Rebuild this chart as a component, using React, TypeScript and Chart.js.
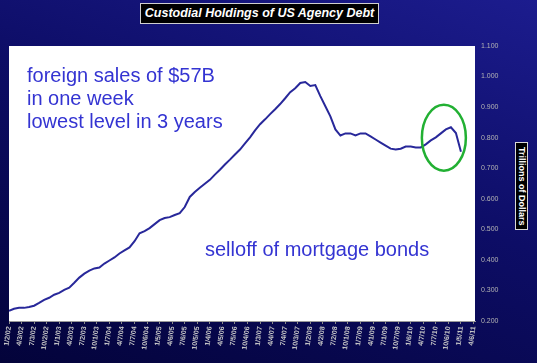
import { useEffect, useRef } from "react";
import { Chart, registerables } from "chart.js";

Chart.register(...registerables);

// Custodial holdings of US agency debt, trillions of dollars
const holdings = [
  0.233, 0.24, 0.243, 0.243, 0.246, 0.25, 0.259, 0.269, 0.276, 0.286,
  0.292, 0.302, 0.309, 0.325, 0.342, 0.355, 0.365, 0.372, 0.375, 0.388,
  0.398, 0.408, 0.421, 0.431, 0.441, 0.461, 0.487, 0.494, 0.504, 0.517,
  0.53, 0.537, 0.54, 0.547, 0.553, 0.573, 0.606, 0.622, 0.636, 0.649,
  0.662, 0.679, 0.695, 0.712, 0.728, 0.745, 0.761, 0.781, 0.801, 0.824,
  0.844, 0.86, 0.877, 0.893, 0.91, 0.929, 0.949, 0.962, 0.979, 0.982,
  0.969, 0.972, 0.936, 0.903, 0.87, 0.827, 0.807, 0.814, 0.814, 0.807,
  0.814, 0.814, 0.804, 0.794, 0.784, 0.774, 0.764, 0.761, 0.764, 0.771,
  0.771, 0.768, 0.768, 0.778, 0.791, 0.801, 0.814, 0.827, 0.834, 0.815,
  0.754,
];

const xTickLabels = [
  "1/2/02", "4/3/02", "7/3/02", "10/2/02", "1/1/03", "4/2/03", "7/2/03", "10/1/03",
  "1/7/04", "4/7/04", "7/7/04", "10/6/04", "1/5/05", "4/6/05", "7/6/05", "10/5/05",
  "1/4/06", "4/5/06", "7/5/06", "10/4/06", "1/3/07", "4/4/07", "7/4/07", "10/3/07",
  "1/2/08", "4/2/08", "7/2/08", "10/1/08", "1/7/09", "4/1/09", "7/1/09", "10/7/09",
  "1/6/10", "4/7/10", "7/7/10", "10/6/10", "1/5/11", "4/6/11",
];

const yMin = 0.2;
const yMax = 1.1;
const yStep = 0.1;

const titleText = "Custodial Holdings of US Agency Debt";
const yTitleText = "Trillions of Dollars";
const noteLines = ["foreign sales of $57B", "in one week", "lowest level in 3 years"];
const noteBottom = "selloff of mortgage bonds";

const FONT = "'Liberation Sans', Arial, sans-serif";

export default function App() {
  const ref = useRef<HTMLCanvasElement>(null);

  useEffect(() => {
    document.body.style.margin = "0";
    const plotBg = {
      id: "plotBg",
      beforeDraw(c: any) {
        const { ctx, chartArea: a } = c;
        ctx.save();
        ctx.fillStyle = "#ffffff";
        ctx.fillRect(a.left, a.top, a.right - a.left, a.bottom - a.top);
        ctx.restore();
      },
    };
    const ring = {
      id: "ring",
      afterDatasetsDraw(c: any) {
        const { ctx } = c;
        const x = c.scales.x.getPixelForValue(86.6);
        const y = c.scales.y.getPixelForValue(0.8);
        ctx.save();
        ctx.beginPath();
        ctx.ellipse(x, y, 22, 33, 0, 0, Math.PI * 2);
        ctx.strokeStyle = "#22b033";
        ctx.lineWidth = 2.5;
        ctx.stroke();
        ctx.restore();
      },
    };
    const chart = new Chart(ref.current as HTMLCanvasElement, {
      type: "line",
      data: {
        datasets: [
          {
            data: holdings.map((v, i) => ({ x: i, y: v })),
            borderColor: "#28289a",
            borderWidth: 2,
            pointRadius: 0,
            tension: 0,
          },
        ],
      },
      options: {
        animation: false,
        responsive: false,
        maintainAspectRatio: false,
        layout: { padding: { left: 9, top: 46, right: 0, bottom: 0 } },
        plugins: { legend: { display: false }, tooltip: { enabled: false } },
        scales: {
          x: {
            type: "linear",
            min: 0,
            max: 92.8,
            afterFit(s: any) {
              s.height = 42;
            },
            grid: { drawOnChartArea: false, drawTicks: true, tickLength: 3, color: "#888" },
            border: { display: true, color: "#999" },
            ticks: {
              stepSize: 2.5,
              includeBounds: false,
              autoSkip: false,
              minRotation: 83,
              maxRotation: 83,
              padding: 2,
              color: "#c8c8c8",
              font: { size: 7, weight: "bold", family: FONT },
              callback: (v: any) => xTickLabels[Math.round(Number(v) / 2.5)] ?? "",
            },
          },
          y: {
            position: "right",
            min: yMin,
            max: yMax,
            afterFit(s: any) {
              s.width = 62;
            },
            grid: { display: false, drawTicks: false },
            border: { display: false },
            ticks: {
              stepSize: yStep,
              padding: 6,
              color: "#b4b4b4",
              font: { size: 7, family: FONT },
              callback: (v: any) => Number(v).toFixed(3),
            },
          },
        },
      } as any,
      plugins: [plotBg, ring],
    });
    return () => chart.destroy();
  }, []);

  return (
    <div
      style={{
        position: "relative",
        width: 537,
        height: 363,
        overflow: "hidden",
        background: "linear-gradient(200deg, #1c1c8e 0%, #0d0d66 45%, #03033a 100%)",
        fontFamily: FONT,
      }}
    >
      <canvas ref={ref} width={537} height={363} style={{ position: "absolute", left: 0, top: 0 }} />
      <div
        style={{
          position: "absolute",
          left: 140,
          top: 3,
          width: 237,
          height: 19,
          background: "#000",
          border: "1px solid #cfcfcf",
          color: "#fff",
          fontWeight: "bold",
          fontStyle: "italic",
          fontSize: 12.5,
          lineHeight: "19px",
          textAlign: "center",
          whiteSpace: "nowrap",
        }}
      >
        {titleText}
      </div>
      <div
        style={{
          position: "absolute",
          left: 515,
          top: 142,
          width: 11,
          height: 86,
          background: "#000",
          border: "1px solid #d8d8d8",
          color: "#fff",
          fontWeight: "bold",
          fontSize: 9,
          lineHeight: "11px",
          writingMode: "vertical-rl",
          textAlign: "center",
          whiteSpace: "nowrap",
        }}
      >
        {yTitleText}
      </div>
      <div
        style={{
          position: "absolute",
          left: 27,
          top: 64,
          color: "#3434d2",
          fontSize: 20,
          lineHeight: "23px",
          whiteSpace: "nowrap",
        }}
      >
        {noteLines.map((t) => (
          <div key={t}>{t}</div>
        ))}
      </div>
      <div
        style={{
          position: "absolute",
          left: 205,
          top: 238,
          color: "#3434d2",
          fontSize: 20,
          lineHeight: "23px",
          whiteSpace: "nowrap",
        }}
      >
        {noteBottom}
      </div>
    </div>
  );
}
